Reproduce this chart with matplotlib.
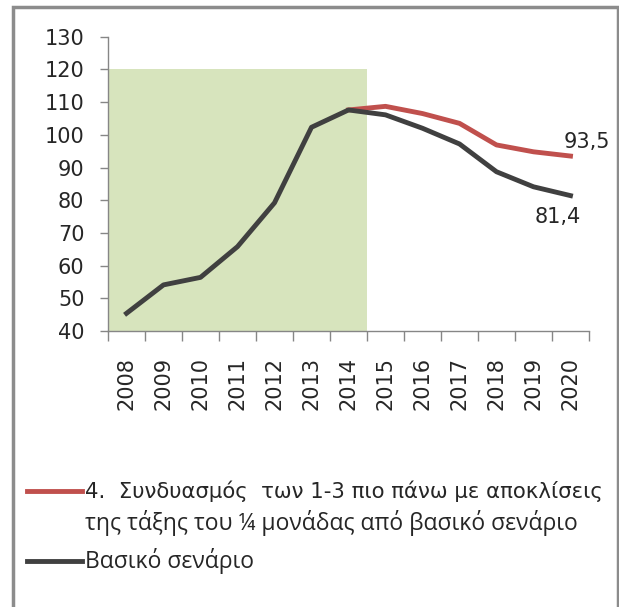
import matplotlib
matplotlib.use("Agg")
import matplotlib.pyplot as plt
from matplotlib.patches import Rectangle
from matplotlib.lines import Line2D

plt.rcParams['font.family'] = ['DejaVu Sans']

years = ['2008', '2009', '2010', '2011', '2012', '2013', '2014',
         '2015', '2016', '2017', '2018', '2019', '2020']
base = [45.4, 54.1, 56.4, 65.8, 79.2, 102.3, 107.6, 106.1, 102.0, 97.2, 88.7, 84.1, 81.4]
scen4 = [107.6, 108.7, 106.5, 103.5, 96.9, 94.8, 93.5]
label4_a = "4.  Συνδυασμός  των 1-3 πιο πάνω με αποκλίσεις"
label4_b = "της τάξης του ¼ μονάδας από βασικό σενάριο"
label_base = "Βασικό σενάριο"

W, H = 619, 607
fig = plt.figure(figsize=(W / 100, H / 100), dpi=100)

# frame round the chart (bottom runs off the picture)
fig.patches.append(Rectangle((13 / W, -0.05), (618 - 13) / W, 1.05 - 7 / H,
                             transform=fig.transFigure, fill=False,
                             edgecolor='#8c8c8c', linewidth=2.5))

ax = fig.add_axes([108 / W, (H - 331) / H, (589 - 108) / W, (331 - 36.7) / H])
x = list(range(len(years)))
x4 = x[6:]

# green area up to 2014
ax.add_patch(Rectangle((-0.5, 40), 7, 80, facecolor='#d7e4bd', edgecolor='none', zorder=0))

ax.plot(x4, scen4, color='#c0504d', linewidth=3.5, zorder=2)
ax.plot(x, base, color='#404040', linewidth=3.5, zorder=3)

ax.text(x[-1] + 0.45, scen4[-1] + 4.3, '93,5', ha='center', va='center', fontsize=15, color='#262626')
ax.text(x[-1] - 0.34, base[-1] - 6.5, '81,4', ha='center', va='center', fontsize=15, color='#262626')

ax.set_xlim(-0.5, len(years) - 0.5)
ax.set_ylim(40, 130)
ax.set_yticks(range(40, 131, 10))
ax.tick_params(axis='y', labelsize=15, length=6, width=1, color='#868686', pad=11, labelcolor='#262626')

ax.set_xticks([i - 0.5 for i in range(len(years) + 1)])
ax.set_xticklabels([])
ax.set_xticks(x, minor=True)
ax.set_xticklabels(years, minor=True, rotation=90, fontsize=15, color='#262626')
ax.tick_params(axis='x', which='major', length=7, width=1, color='#868686')
ax.tick_params(axis='x', which='minor', length=0, pad=18.5)

for s in ['top', 'right']:
    ax.spines[s].set_visible(False)
for s in ['left', 'bottom']:
    ax.spines[s].set_color('#868686')
    ax.spines[s].set_linewidth(1)

# legend by hand
fig.lines.append(Line2D([27 / W, 82 / W], [1 - 491 / H, 1 - 491 / H], transform=fig.transFigure,
                        color='#c0504d', linewidth=3.5))
fig.text(85 / W, 1 - 491 / H, label4_a, fontsize=15.3, color='#262626', va='center')
fig.text(85 / W, 1 - 523 / H, label4_b, family=['Open Sans', 'DejaVu Sans'], fontsize=16.5,
         color='#262626', va='center')
fig.lines.append(Line2D([27 / W, 82 / W], [1 - 561 / H, 1 - 561 / H], transform=fig.transFigure,
                        color='#404040', linewidth=3.5))
fig.text(85 / W, 1 - 561 / H, label_base, family=['Open Sans', 'DejaVu Sans'], fontsize=16.5,
         color='#262626', va='center')

fig.savefig('out.png', dpi=100)
